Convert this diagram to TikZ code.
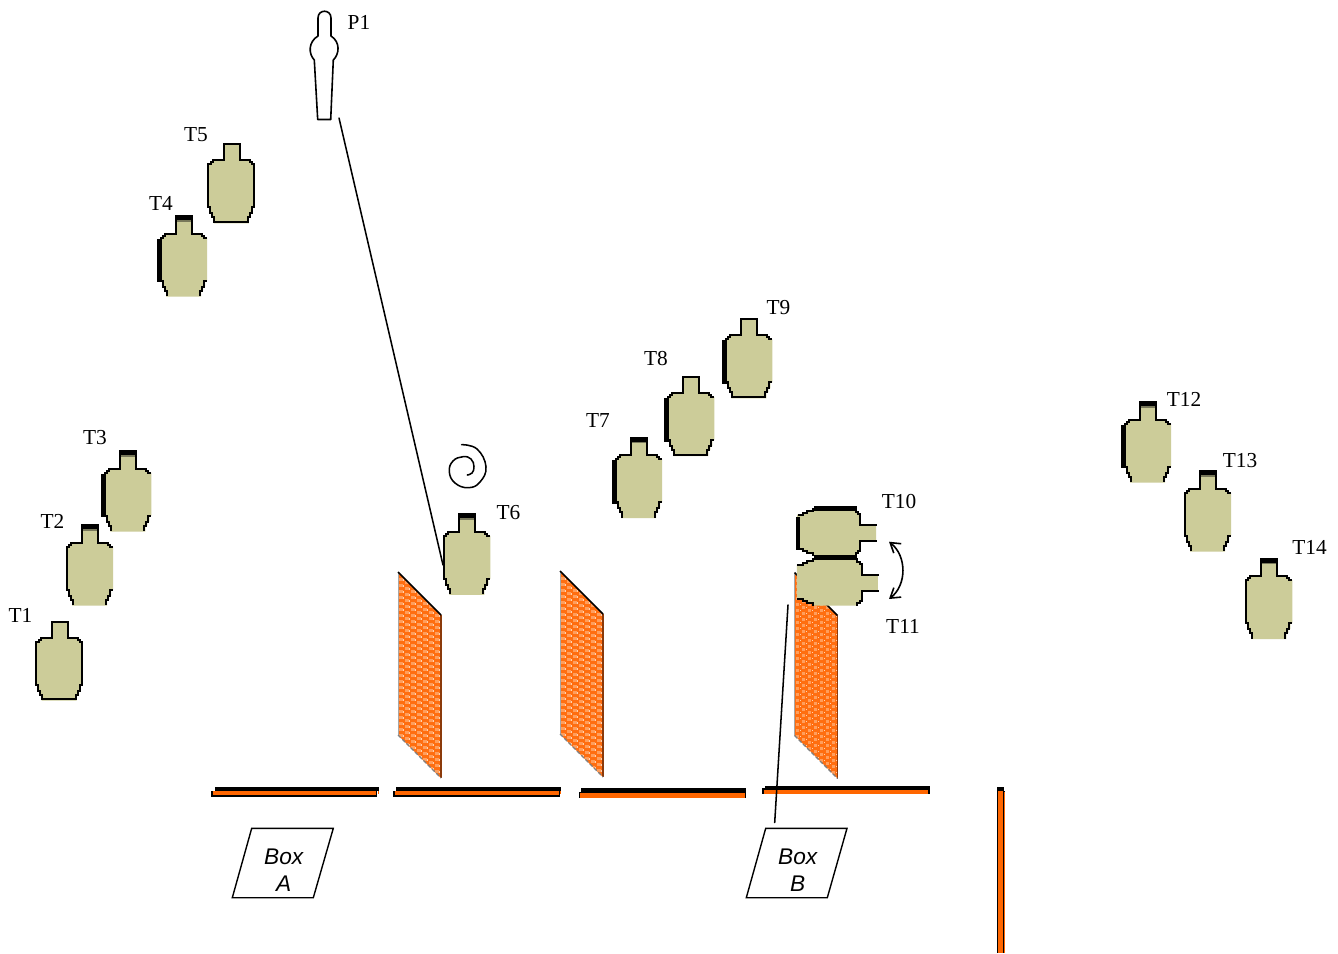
\documentclass[tikz,border=0pt]{standalone}
\usepackage{fontspec}
\setmainfont{Liberation Serif}
\newfontfamily\boxfont{Liberation Sans}
\usetikzlibrary{arrows.meta}
\definecolor{tan}{HTML}{CCCC99}
\definecolor{tanshade}{HTML}{77775A}
\definecolor{wallorange}{HTML}{FF6600}
\definecolor{spotlight}{HTML}{FF9E5C}
\definecolor{panelbase}{HTML}{FF6E10}
\definecolor{speck}{HTML}{FFD2B0}
\definecolor{paneldark}{HTML}{8B3A0A}
\tikzset{
  outline/.style={draw=black,line width=1.5pt,line cap=rect,line join=miter},
  thinline/.style={draw=black,line width=1.15pt,line cap=round},
  lbl/.style={inner sep=0pt,font=\fontsize{16}{18}\selectfont,text=black},
  boxtext/.style={inner sep=0pt,align=center,font=\boxfont\itshape\fontsize{17}{20}\selectfont},
  barfill/.style={fill=black,draw=none},
}
% #1 thick neck, #2 thick left bar, #3 right edge line, #4 bottom line, #5 neck tip line
\newcommand{\tgtshape}[5]{%
  \fill[tan] (17,1)--(33,1)--(33,17)--(43,17)--(43,19)--(45,19)--(45,21)--(48,21)--(48,64)--(46,64)--(46,70)--(44,70)--(44,74)--(42,74)--(42,80)--(7,80)--(7,74)--(5,74)--(5,70)--(3,70)--(3,64)--(1,64)--(1,21)--(4,21)--(4,19)--(6,19)--(6,17)--(17,17)--cycle;
  \draw[outline] (7.5,78.5)--(7.5,74)--(5.5,74)--(5.5,70)--(3.5,70)--(3.5,64)--(1.5,64)--(1.5,21)--(4,21)--(4,19)--(6,19)--(6,17)--(17,17)--(17,1);
  \draw[outline] (33,1)--(33,17)--(43,17)--(43,19)--(45,19)--(45,21)--(47,21);
  \draw[outline] (47,64)--(45,64)--(45,70)--(43,70)--(43,74)--(41,74)--(41,78.5);
  \ifnum#5=1 \draw[outline] (17,1)--(33,1);\fi
  \ifnum#3=1 \draw[outline] (47,21)--(47,64);\fi
  \ifnum#4=1 \draw[outline] (7.5,78.5)--(41,78.5);\fi
  \ifnum#1=1
    \fill[barfill] (16,-1.5) rectangle (34,3.5);
    \fill[tanshade] (18,3.5) rectangle (32,5);
  \fi
  \ifnum#2=1 \fill[barfill] (-2.5,22) rectangle (2.5,65.5);\fi
}
\newcommand{\target}[8]{%
  \coordinate (#1) at (#2,#3);
  \begin{scope}[shift={(#1)}]\tgtshape{#4}{#5}{#6}{#7}{#8}\end{scope}
}
\newcommand{\panel}[2]{%
  \begin{scope}
    \clip (#1,#2)--(#1+43,#2+43)--(#1+43,#2+206)--(#1,#2+163)--cycle;
    \fill[panelbase] (#1,#2) rectangle (#1+43,#2+206);
    \foreach \i in {0,...,7}{\foreach \j in {0,...,35}{
      \fill[spotlight] ({#1+1+\i*6},{#2+\j*6+mod(\i,2)*3}) rectangle ++(3.5,3);
      \fill[speck] ({#1+5.2+\i*6},{#2+1+\j*6+mod(\i,2)*3}) rectangle ++(0.8,1.6);
    }}
  \end{scope}
  \draw[black!35,line width=0.7pt] (#1,#2)--(#1,#2+163);
  \draw[paneldark,line width=0.9pt] (#1+43,#2+43)--(#1+43,#2+206);
  \draw[black!50,line width=0.9pt,dash pattern=on 3pt off 1.5pt] (#1,#2+163)--(#1+43,#2+206);
  \draw[black,line width=1.3pt] (#1,#2)--(#1+43,#2+43);
}
\begin{document}
\begin{tikzpicture}[x=0.75pt,y=-0.75pt]
\useasboundingbox (0,0) rectangle (1338,953);
\fill[white] (0,0) rectangle (1338,953);

% orange panels
\panel{398}{572}
\panel{560}{571}
\panel{794.5}{572.5}

% walls
\fill[black] (211,790.5) rectangle (377,796.5);
\fill[black] (215,787.3) rectangle (379,791);
\fill[wallorange] (213,791.2) rectangle (376,794.7);
\fill[wallorange] (377.5,790.5) rectangle (379,793.5);

\fill[black] (393.3,790.5) rectangle (560,796.5);
\fill[black] (396,787.3) rectangle (561,791);
\fill[wallorange] (394.5,791.2) rectangle (558.5,794.7);
\fill[wallorange] (559.8,790.5) rectangle (561,793.5);

\fill[black] (581,788) rectangle (746,792.7);
\fill[black] (578.7,791.5) rectangle (746,797.5);
\fill[wallorange] (579.6,792.7) rectangle (744.6,797.5);

\fill[black] (765,786) rectangle (930,787.5);
\fill[wallorange] (765,787.5) rectangle (930,788.5);
\fill[black] (762.3,788.3) rectangle (930,793.5);
\fill[wallorange] (764,790) rectangle (928,793.5);

\fill[black] (997,787.3) rectangle (1003.7,953);
\fill[wallorange] (998.3,790.7) rectangle (1002.7,953);
\fill[black] (1003,790.5) rectangle (1005,791.5);
\fill[wallorange] (1003.7,791.5) rectangle (1005,953);

% person
\coordinate (P1foot) at (339,118);
\coordinate (T6edge) at (443,565);
\draw[black,line width=1.2pt,line join=round,fill=white] (318,36) -- (318,18) .. controls (318,9) and (331,9) .. (331,18) -- (331,36) .. controls (340.5,42) and (339.5,54) .. (333.3,60) -- (330.7,119.5) -- (317.7,119.5) -- (314.3,60) .. controls (308.5,54) and (308,42) .. (318,36) -- cycle;
\draw[thinline] (P1foot) -- (T6edge);

% spiral
\draw[thinline] plot[smooth,tension=0.75] coordinates {(461.7,444.7) (477,449) (486,466.7) (480,482) (468.3,487.7) (455,483) (449.3,471.7) (453,461) (463,456.7) (471,459) (474,466.7) (472,473) (467.3,475)};

% targets: name x y neck left right bottom tip
\target{T1}{34.5}{620.7}{0}{0}{1}{1}{1}
\target{T2}{65}{525.5}{1}{0}{0}{0}{1}
\target{T3}{103.3}{451.5}{1}{1}{0}{0}{1}
\target{T4}{159}{216.5}{1}{1}{0}{0}{1}
\target{T5}{206.8}{143.3}{0}{0}{1}{1}{1}
\target{T6}{442.3}{514.8}{1}{0}{0}{0}{1}
\target{T7}{614}{438.2}{1}{1}{0}{0}{1}
\target{T8}{666.3}{376}{0}{1}{0}{1}{1}
\target{T9}{724.3}{318.3}{0}{1}{0}{1}{1}
\target{T12}{1123}{402.5}{1}{1}{0}{0}{1}
\target{T13}{1183}{471.5}{1}{0}{0}{0}{1}
\target{T14}{1244.3}{559.2}{1}{0}{0}{0}{1}

% rotated targets
\coordinate (T10) at (877,507.5);
\begin{scope}[shift={(T10)},x={(0pt,-0.75pt)},y={(-0.75pt,0pt)}]
  \tgtshape{0}{0}{0}{0}{0}
\end{scope}
\coordinate (T11) at (879,557.5);
\begin{scope}[shift={(T11)},x={(0pt,-0.75pt)},y={(-0.77pt,0pt)}]
  \tgtshape{0}{0}{0}{0}{0}
\end{scope}
\fill[barfill] (814,506) rectangle (857,510.7);
\fill[barfill] (814,555) rectangle (857,560);
\fill[barfill] (796,516.7) rectangle (800,550);

% arrow between T10 and T11
\coordinate (turnA) at (889,541.7);
\coordinate (turnB) at (889,599);
\draw[black,line width=1.2pt,{Straight Barb[length=7pt,width=9pt]}-{Straight Barb[length=7pt,width=9pt]}] (turnA) .. controls (907,556) and (907,585) .. (turnB);

% boxes
\coordinate (boxAtl) at (251.7,828.3);
\coordinate (boxAtr) at (333.3,828.3);
\coordinate (boxAbr) at (313.3,897.7);
\coordinate (boxAbl) at (232.3,897.7);
\draw[black,line width=1.05pt] (boxAtl)--(boxAtr)--(boxAbr)--(boxAbl)--cycle;
\node[boxtext] (boxA) at (283.7,870.5) {Box\\A};
\coordinate (boxBtl) at (765.7,828.3);
\coordinate (boxBtr) at (847,828.3);
\coordinate (boxBbr) at (827.3,897.7);
\coordinate (boxBbl) at (746.3,897.7);
\draw[black,line width=1.05pt] (boxBtl)--(boxBtr)--(boxBbr)--(boxBbl)--cycle;
\node[boxtext] (boxB) at (797.7,870.5) {Box\\B};
\coordinate (boxBline) at (774.7,822.5);
\coordinate (T11line) at (788,605);
\draw[thinline] (boxBline) -- (T11line);

% labels
\node[lbl] (lP1) at (359,22.5) {P1};
\node[lbl] (lT1) at (20.5,615.5) {T1};
\node[lbl] (lT2) at (52.5,521.5) {T2};
\node[lbl] (lT3) at (95,437.5) {T3};
\node[lbl] (lT4) at (161,203.5) {T4};
\node[lbl] (lT5) at (196,134.5) {T5};
\node[lbl] (lT6) at (508.5,512.5) {T6};
\node[lbl] (lT7) at (598,420.5) {T7};
\node[lbl] (lT8) at (656,358.5) {T8};
\node[lbl] (lT9) at (778.5,307.5) {T9};
\node[lbl] (lT10) at (899,501.5) {T10};
\node[lbl] (lT11) at (903,626.5) {T11};
\node[lbl] (lT12) at (1184,399.5) {T12};
\node[lbl] (lT13) at (1240,460.5) {T13};
\node[lbl] (lT14) at (1309.5,547.5) {T14};
\end{tikzpicture}
\end{document}
